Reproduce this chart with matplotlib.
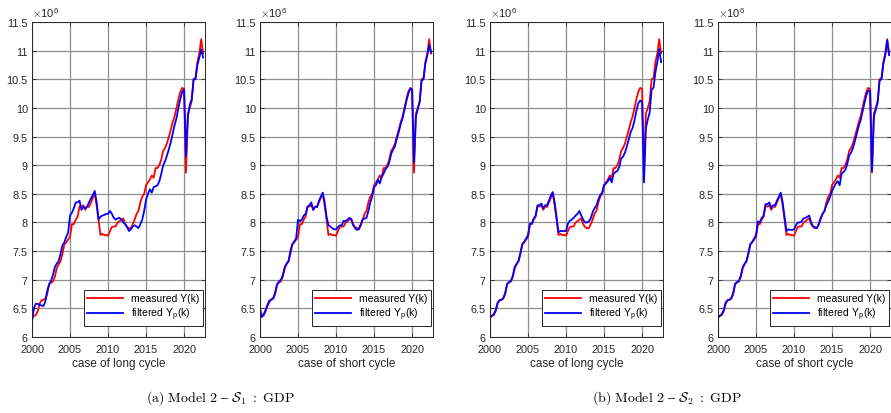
import numpy as np
import matplotlib
matplotlib.use("Agg")
import matplotlib.pyplot as plt
from matplotlib.ticker import FormatStrFormatter

plt.rcParams['font.family'] = ['Liberation Sans', 'DejaVu Sans']
plt.rcParams['mathtext.fontset'] = 'cm'

# quarterly time axis 2000Q1 .. 2022Q3
lata = np.arange(2000, 2022.51, 0.25)

# measured GDP (x1e6), same in every panel
zmierzone = [
    6.33, 6.37, 6.38, 6.45, 6.58, 6.64, 6.65, 6.67,
    6.75, 6.92, 6.95, 6.97, 7.05, 7.20, 7.27, 7.32,
    7.45, 7.62, 7.65, 7.70, 7.75, 7.97, 7.97, 8.05,
    8.10, 8.28, 8.28, 8.30, 8.22, 8.28, 8.27, 8.35,
    8.43, 8.50, 8.30, 8.05, 7.78, 7.80, 7.78, 7.78,
    7.77, 7.85, 7.92, 7.93, 7.93, 8.00, 8.02, 8.05,
    8.07, 7.97, 7.92, 7.90, 7.90, 7.97, 8.05, 8.15,
    8.20, 8.35, 8.45, 8.50, 8.65, 8.70, 8.75, 8.82,
    8.78, 8.95, 8.95, 9.00, 9.10, 9.25, 9.30, 9.38,
    9.50, 9.62, 9.75, 9.85, 10.00, 10.15, 10.28, 10.35,
    10.33, 8.87, 9.90, 10.00, 10.12, 10.50, 10.52, 10.80,
    10.95, 11.20, 10.95,
]

# filtered Yp, model 2 - S1, long cycle
filtr_s1_dlugi = [
    6.27, 6.50, 6.58, 6.58, 6.56, 6.55, 6.54, 6.62,
    6.80, 6.92, 6.98, 7.08, 7.22, 7.28, 7.32, 7.45,
    7.60, 7.65, 7.75, 7.82, 8.12, 8.17, 8.25, 8.35,
    8.35, 8.38, 8.22, 8.27, 8.25, 8.28, 8.35, 8.42,
    8.48, 8.55, 8.35, 8.05, 8.10, 8.12, 8.13, 8.15,
    8.15, 8.20, 8.15, 8.08, 8.05, 8.07, 8.08, 8.05,
    8.00, 7.97, 7.92, 7.85, 7.88, 7.93, 7.95, 7.93,
    7.90, 7.97, 8.05, 8.20, 8.40, 8.50, 8.58, 8.52,
    8.62, 8.63, 8.65, 8.72, 8.85, 9.00, 9.07, 9.17,
    9.28, 9.40, 9.55, 9.70, 9.82, 10.00, 10.15, 10.28,
    10.32, 9.15, 9.85, 10.05, 10.15, 10.50, 10.50, 10.75,
    10.88, 11.02, 10.88,
]

# filtered Yp, model 2 - S1, short cycle
filtr_s1_krotki = [
    6.50, 6.35, 6.40, 6.48, 6.55, 6.62, 6.66, 6.68,
    6.78, 6.92, 6.97, 7.00, 7.08, 7.22, 7.28, 7.33,
    7.50, 7.62, 7.67, 7.72, 8.05, 8.02, 8.05, 8.12,
    8.15, 8.27, 8.30, 8.35, 8.22, 8.27, 8.27, 8.38,
    8.45, 8.52, 8.35, 8.10, 7.95, 7.93, 7.90, 7.88,
    7.88, 7.92, 7.95, 7.95, 8.03, 8.02, 8.05, 8.08,
    8.05, 7.95, 7.90, 7.87, 7.88, 7.95, 8.05, 8.07,
    8.08, 8.20, 8.35, 8.45, 8.62, 8.65, 8.75, 8.68,
    8.80, 8.85, 8.93, 8.97, 9.05, 9.20, 9.27, 9.33,
    9.47, 9.58, 9.72, 9.82, 9.97, 10.12, 10.25, 10.33,
    10.32, 9.05, 9.85, 9.98, 10.10, 10.48, 10.50, 10.78,
    10.92, 11.10, 10.97,
]

# filtered Yp, model 2 - S2, long cycle
filtr_s2_dlugi = [
    6.35, 6.37, 6.40, 6.47, 6.60, 6.64, 6.65, 6.68,
    6.77, 6.93, 6.96, 6.98, 7.07, 7.22, 7.28, 7.33,
    7.47, 7.62, 7.66, 7.72, 7.78, 7.98, 7.98, 8.07,
    8.12, 8.30, 8.30, 8.33, 8.25, 8.30, 8.30, 8.38,
    8.47, 8.53, 8.35, 8.10, 7.83, 7.85, 7.85, 7.85,
    7.85, 7.98, 8.03, 8.05, 8.08, 8.12, 8.15, 8.20,
    8.12, 8.05, 8.00, 8.00, 8.02, 8.07, 8.18, 8.25,
    8.30, 8.40, 8.48, 8.52, 8.65, 8.68, 8.72, 8.78,
    8.70, 8.85, 8.88, 8.90, 8.97, 9.12, 9.15, 9.22,
    9.33, 9.45, 9.58, 9.65, 9.78, 9.95, 10.08, 10.13,
    10.10, 8.70, 9.65, 9.80, 9.92, 10.32, 10.35, 10.62,
    10.80, 11.03, 10.80,
]

# filtered Yp, model 2 - S2, short cycle
filtr_s2_krotki = [
    6.37, 6.37, 6.40, 6.47, 6.60, 6.64, 6.65, 6.68,
    6.77, 6.93, 6.96, 6.98, 7.07, 7.22, 7.28, 7.33,
    7.47, 7.62, 7.66, 7.72, 7.78, 8.02, 8.00, 8.08,
    8.12, 8.32, 8.32, 8.35, 8.25, 8.30, 8.30, 8.38,
    8.45, 8.52, 8.35, 8.10, 7.85, 7.88, 7.87, 7.87,
    7.88, 7.95, 8.00, 8.00, 8.02, 8.07, 8.08, 8.10,
    8.12, 8.00, 7.93, 7.92, 7.90, 7.97, 8.08, 8.15,
    8.20, 8.30, 8.37, 8.45, 8.55, 8.62, 8.68, 8.72,
    8.65, 8.85, 8.88, 8.92, 9.02, 9.17, 9.22, 9.30,
    9.42, 9.55, 9.68, 9.78, 9.93, 10.08, 10.22, 10.30,
    10.30, 8.90, 9.85, 9.97, 10.10, 10.48, 10.50, 10.78,
    10.92, 11.18, 10.92,
]

panele = [
    (filtr_s1_dlugi, 'case of long cycle'),
    (filtr_s1_krotki, 'case of short cycle'),
    (filtr_s2_dlugi, 'case of long cycle'),
    (filtr_s2_krotki, 'case of short cycle'),
]
lewe = [32, 260, 490, 718]

fig = plt.figure(figsize=(8.91, 4.14), dpi=100)
W, H = 891, 414

for (filtr, opis), x0 in zip(panele, lewe):
    ax = fig.add_axes([x0 / W, 1 - 338 / H, 173 / W, 315 / H])
    ax.plot(lata, zmierzone, color='#ff0000', lw=1.3, label='measured Y(k)')
    ax.plot(lata, filtr, color='#0000ff', lw=1.3, label='filtered Y$_\\mathregular{p}$(k)')
    ax.set_xlim(2000, 2022.75)
    ax.set_ylim(6, 11.5)
    ax.set_xticks([2000, 2005, 2010, 2015, 2020])
    ax.set_yticks(np.arange(6, 11.51, 0.5))
    ax.yaxis.set_major_formatter(FormatStrFormatter('%g'))
    ax.grid(True, color='#8f8f8f', lw=0.9)
    ax.set_axisbelow(True)
    ax.tick_params(direction='in', length=3, width=0.6, labelsize=7.8, pad=3,
                   colors='#262626', top=True, right=True)
    ax.tick_params(axis='x', pad=5)
    for s in ax.spines.values():
        s.set_color('#262626')
        s.set_linewidth(0.7)
    ax.set_xlabel(opis, fontsize=8.5, color='#262626', labelpad=2)
    ax.text(0.0, 1.008, r'$\times\mathregular{10^{6}}$', transform=ax.transAxes,
            fontsize=8, color='#262626', ha='left', va='bottom')
    leg = ax.legend(loc='lower right', bbox_to_anchor=(0.988, 0.035), fontsize=7.5,
                    fancybox=False, framealpha=1, edgecolor='#262626',
                    handlelength=3.4, borderpad=0.35, labelspacing=0.25,
                    borderaxespad=0)
    leg.get_frame().set_linewidth(0.7)

fig.text(220 / W, 1 - 398 / H,
         r'$\mathrm{(a)\ Model\ 2\ –}\ \mathcal{S}_1\ \mathrm{:}\ \mathrm{GDP}$',
         fontsize=10, ha='center', va='center')
fig.text(667 / W, 1 - 398 / H,
         r'$\mathrm{(b)\ Model\ 2\ –}\ \mathcal{S}_2\ \mathrm{:}\ \mathrm{GDP}$',
         fontsize=10, ha='center', va='center')

fig.savefig('out.png', dpi=100)
